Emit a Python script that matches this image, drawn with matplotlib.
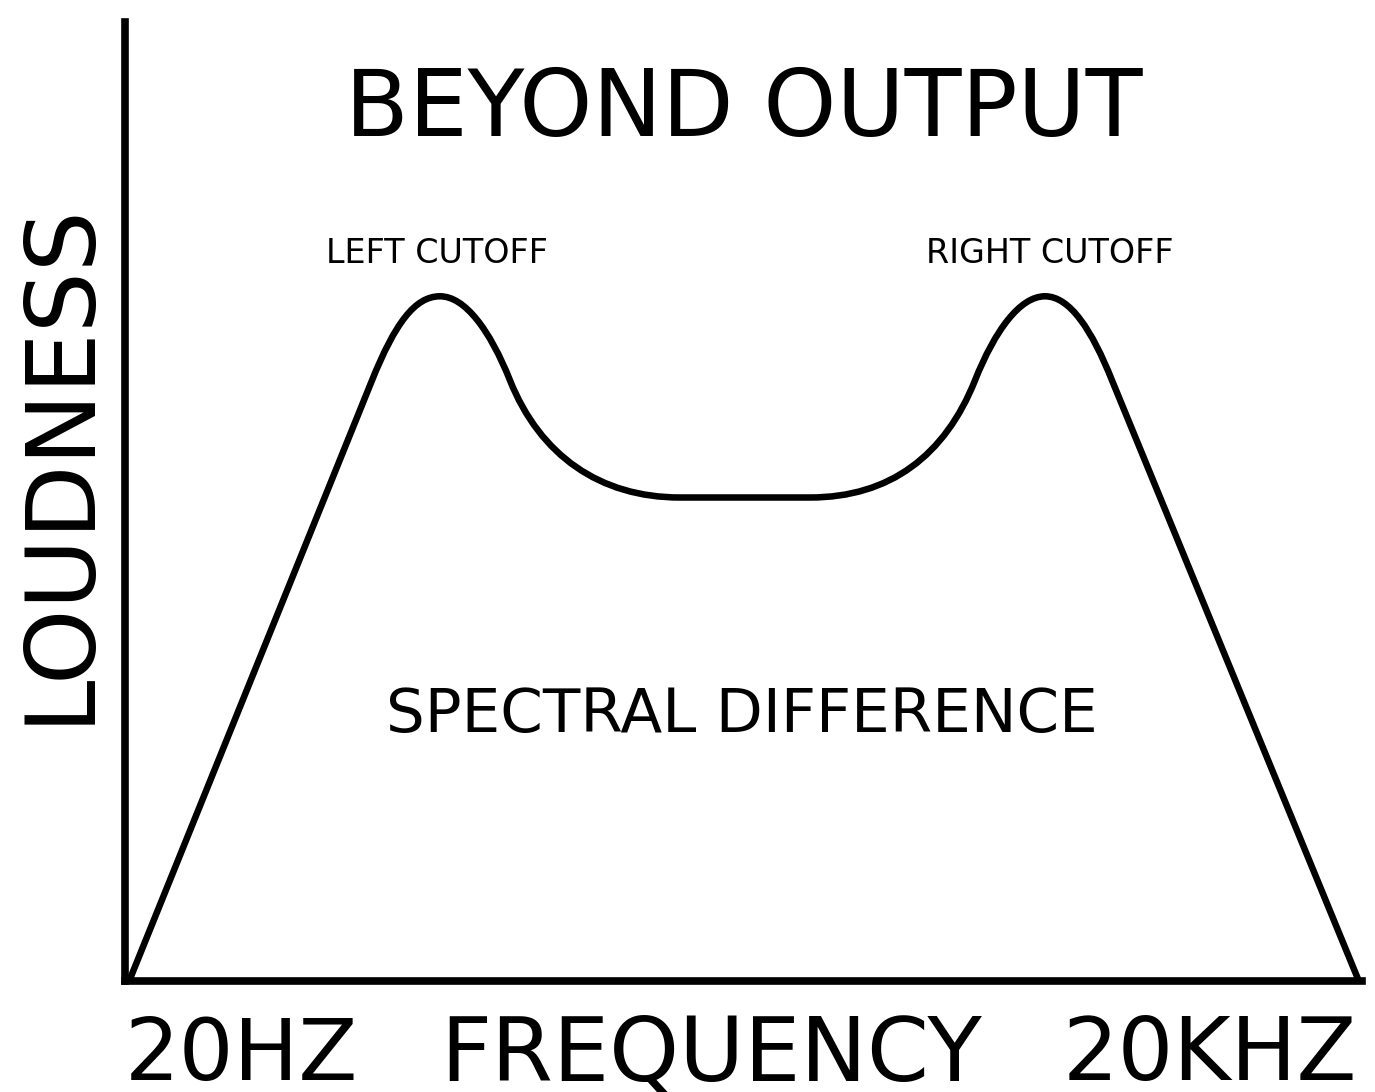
import matplotlib
matplotlib.use("Agg")
import matplotlib.pyplot as plt
from matplotlib.path import Path
from matplotlib.patches import PathPatch

# curve shape: anchor points and bezier handles (x = frequency position, y = loudness)
# units are arbitrary, 0..1237 across and 0..958 up
curve_x = [5, 247, 270, 290, 315, 340, 365, 385, 415, 475, 555, 685, 765, 820, 850, 870, 895, 920, 945, 967, 987, 1233]
curve_y = [2, 600, 657, 684, 684, 684, 650, 600, 525, 483, 483, 483, 483, 525, 600, 650, 684, 684, 684, 650, 600, 2]
curve_codes = ["M", "L", "C", "C", "C", "C", "C", "C", "C", "C", "C", "L", "C", "C", "C", "C", "C", "C", "C", "C", "C", "L"]

title = "BEYOND OUTPUT"
peak_labels = ["LEFT CUTOFF", "RIGHT CUTOFF"]
peak_label_x = [312, 925]
area_label = "SPECTRAL DIFFERENCE"
x_labels = ["20HZ", "FREQUENCY", "20KHZ"]
y_label = "LOUDNESS"

plt.rcParams["font.family"] = ["DejaVu Sans"]

fig = plt.figure(figsize=(13.75, 10.92), dpi=100)
ax = fig.add_axes([125 / 1375, (1092 - 981) / 1092, 1237 / 1375, 959 / 1092])
ax.set_xlim(0, 1237)
ax.set_ylim(0, 958)

code_map = {"M": Path.MOVETO, "L": Path.LINETO, "C": Path.CURVE4}
verts = list(zip(curve_x, curve_y))
codes = [code_map[c] for c in curve_codes]
path = Path(verts, codes)
ax.add_patch(PathPatch(path, facecolor="none", edgecolor="black", lw=4.7,
                       capstyle="round", joinstyle="round"))

# only left and bottom axis lines
for s in ["top", "right"]:
    ax.spines[s].set_visible(False)
for s in ["left", "bottom"]:
    ax.spines[s].set_linewidth(5.5)
    ax.spines[s].set_capstyle("projecting")
ax.set_xticks([])
ax.set_yticks([])

ax.text(619, 870, title, ha="center", va="center", fontsize=67)
for lab, lx in zip(peak_labels, peak_label_x):
    ax.text(lx, 727, lab, ha="center", va="center", fontsize=24)
ax.text(617, 265, area_label, ha="center", va="center", fontsize=44)

ybase = 1 - 1080 / 1092
fig.text(125 / 1375, ybase, x_labels[0], ha="left", va="baseline", fontsize=62)
fig.text(711 / 1375, ybase, x_labels[1], ha="center", va="baseline", fontsize=64)
fig.text(1357 / 1375, ybase, x_labels[2], ha="right", va="baseline", fontsize=63)
fig.text(60 / 1375, 1 - 462 / 1092, y_label, ha="center", va="center", rotation=90, fontsize=69)

fig.savefig("out.png", dpi=100, facecolor="white")
